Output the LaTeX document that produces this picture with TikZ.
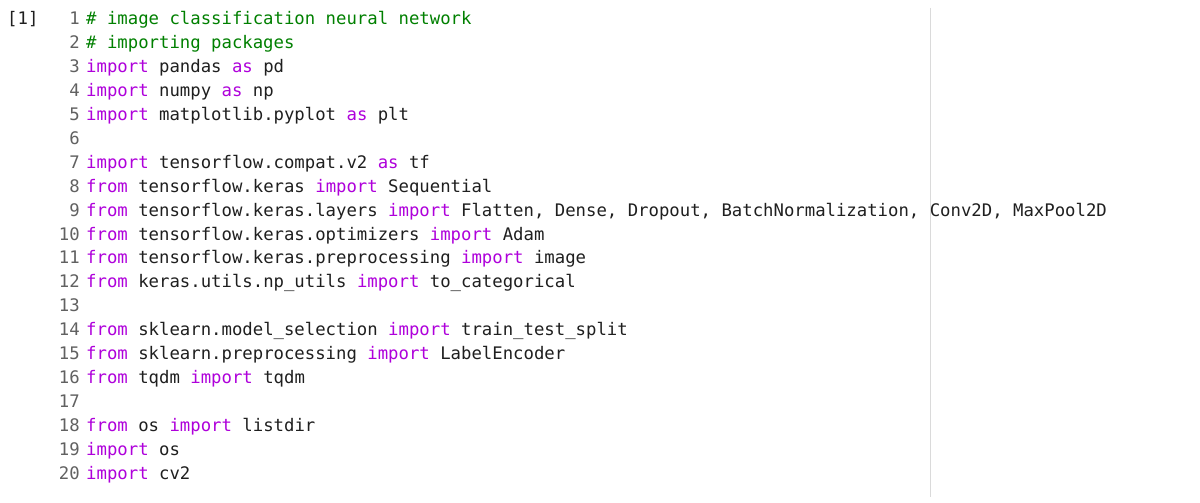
\documentclass[tikz,border=0pt]{standalone}
\usepackage{fontspec}
\setmonofont{DejaVu Sans Mono}
\definecolor{kw}{HTML}{AF00DB}
\definecolor{cm}{HTML}{008000}
\definecolor{ln}{HTML}{616161}
\definecolor{tx}{HTML}{1F1F1F}
\definecolor{rule}{HTML}{DADADA}
\newcommand{\kw}[1]{\textcolor{kw}{#1}}
\begin{document}
\begin{tikzpicture}[x=1pt,y=1pt,
  code/.style={anchor=base west,inner sep=0pt,text=tx,font=\ttfamily\fontsize{17.3}{20}\selectfont},
  num/.style={anchor=base east,inner sep=0pt,text=ln,font=\ttfamily\fontsize{17.3}{20}\selectfont}]
\useasboundingbox[fill=white] (0,0) rectangle (1200,503);
\draw[rule,line width=1pt] (930,495) -- (930,6);
\node[num,anchor=base west,text=tx] (cell) at (7,478) {[1]};
\foreach \i in {1,...,20}{
  \node[num] (n\i) at (80,{478-(\i-1)*23.9}) {\i};
}
\node[code,text=cm] (l1) at (86,478) {\# image classification neural network};
\node[code,text=cm] (l2) at (86,454.1) {\# importing packages};
\node[code] (l3) at (86,430.2) {\kw{import} pandas \kw{as} pd};
\node[code] (l4) at (86,406.3) {\kw{import} numpy \kw{as} np};
\node[code] (l5) at (86,382.4) {\kw{import} matplotlib.pyplot \kw{as} plt};
\node[code] (l7) at (86,334.6) {\kw{import} tensorflow.compat.v2 \kw{as} tf};
\node[code] (l8) at (86,310.7) {\kw{from} tensorflow.keras \kw{import} Sequential};
\node[code] (l9) at (86,286.8) {\kw{from} tensorflow.keras.layers \kw{import} Flatten, Dense, Dropout, BatchNormalization, Conv2D, MaxPool2D};
\node[code] (l10) at (86,262.9) {\kw{from} tensorflow.keras.optimizers \kw{import} Adam};
\node[code] (l11) at (86,239.0) {\kw{from} tensorflow.keras.preprocessing \kw{import} image};
\node[code] (l12) at (86,215.1) {\kw{from} keras.utils.np\_utils \kw{import} to\_categorical};
\node[code] (l14) at (86,167.3) {\kw{from} sklearn.model\_selection \kw{import} train\_test\_split};
\node[code] (l15) at (86,143.4) {\kw{from} sklearn.preprocessing \kw{import} LabelEncoder};
\node[code] (l16) at (86,119.5) {\kw{from} tqdm \kw{import} tqdm};
\node[code] (l18) at (86,71.7) {\kw{from} os \kw{import} listdir};
\node[code] (l19) at (86,47.8) {\kw{import} os};
\node[code] (l20) at (86,23.9) {\kw{import} cv2};
\end{tikzpicture}
\end{document}
